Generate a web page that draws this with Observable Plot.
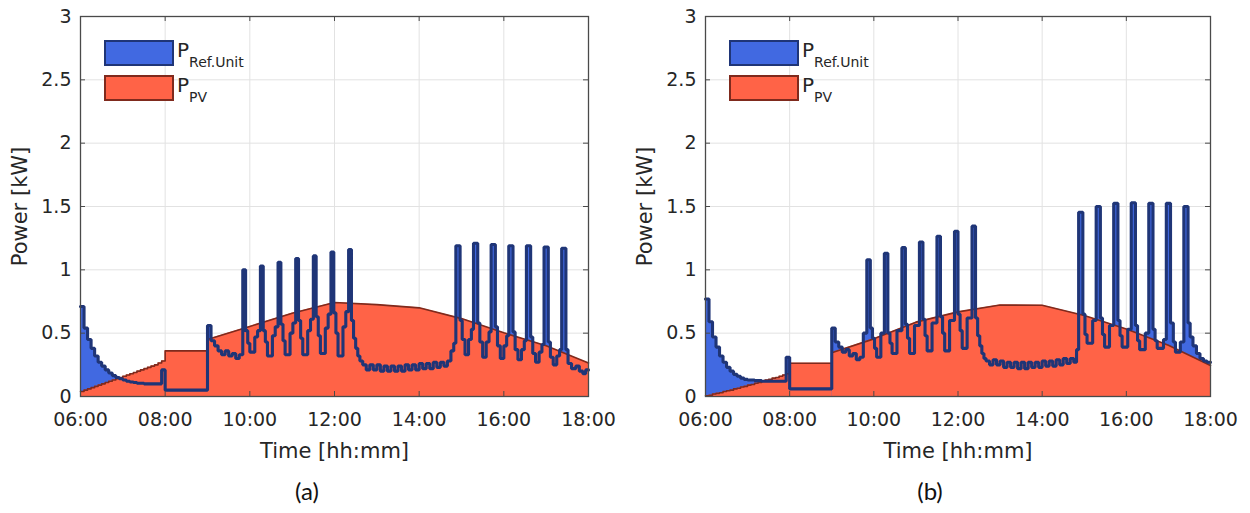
<!DOCTYPE html>
<html>
<head>
<meta charset="utf-8">
<script src="https://cdn.jsdelivr.net/npm/d3@7"></script>
<script src="https://cdn.jsdelivr.net/npm/@observablehq/plot@0.6"></script>
<style>
  body { margin: 0; background: #fff; }
  #fig { position: relative; width: 1250px; height: 513px; background: #fff; overflow: hidden; font-family: "DejaVu Sans", sans-serif; color: #262626; }
  .panel { position: absolute; top: 0; }
  .panel svg g[aria-label="x-axis label"] text, .panel svg g[aria-label="y-axis label"] text { font-size: 21px; }
  .lbox { position: absolute; width: 70px; height: 26px; box-sizing: border-box; border-width: 2.5px; border-style: solid; }
  .ltext { position: absolute; font-size: 20px; line-height: 20px; white-space: nowrap; color: #262626; }
  .ltext sub { font-size: 14px; vertical-align: -10px; line-height: 0; }
  .cap { position: absolute; top: 476px; font-family: Lato, "Open Sans", sans-serif; font-size: 24px; color: #111; transform: translateX(-50%); }
</style>
</head>
<body>
<div id="fig"></div>
<script>
// ---------- data ----------
const xTicks = [6, 8, 10, 12, 14, 16, 18];
const yTicks = [0, 0.5, 1, 1.5, 2, 2.5, 3];
const seriesNames = ["Ref.Unit", "PV"];
const panelLabels = ["(a)", "(b)"];

// Panel (a): reference unit power (step series)
const blueTimeA = ["06:00","06:05","06:10","06:15","06:20","06:25","06:30","06:35","06:40","06:45","06:50","06:55",
  "07:00","07:05","07:10","07:15","07:20","07:30","07:55","08:00","09:00","09:05","09:10","09:15","09:20","09:25",
  "09:30","09:35","09:40","09:45",
  "09:50","09:54","09:57","10:00","10:07","10:11",
  "10:15","10:19","10:22","10:25","10:32","10:36",
  "10:40","10:44","10:47","10:50","10:57","11:01",
  "11:05","11:09","11:12","11:15","11:22","11:26",
  "11:30","11:34","11:37","11:40","11:47","11:51",
  "11:55","11:59","12:02","12:05","12:12","12:16",
  "12:20","12:24","12:27","12:30","12:33","12:36","12:40",
  "12:45","12:50","12:55","13:00","13:05","13:10","13:15","13:20","13:25","13:30","13:35","13:40","13:45","13:50",
  "13:55","14:00","14:05","14:10","14:15","14:20","14:25","14:30","14:35","14:40","14:45","14:49",
  "14:52","14:58","15:01","15:05","15:10","15:14",
  "15:17","15:23","15:26","15:30","15:35","15:39",
  "15:42","15:48","15:51","15:55","16:00","16:04",
  "16:07","16:13","16:16","16:20","16:25","16:29",
  "16:32","16:38","16:41","16:45","16:50","16:54",
  "16:57","17:03","17:06","17:10","17:15","17:19",
  "17:22","17:28","17:31","17:36","17:42","17:47","17:52","17:56","18:00"];
const blueValA = [0.71,0.54,0.45,0.38,0.32,0.27,0.24,0.21,0.185,0.165,0.15,0.14,
  0.13,0.12,0.115,0.11,0.105,0.10,0.21,0.05,0.56,0.44,0.40,0.36,0.33,0.36,
  0.32,0.34,0.30,0.33,
  1.00,0.52,0.42,0.35,0.47,0.52,
  1.03,0.52,0.43,0.32,0.48,0.55,
  1.06,0.57,0.44,0.33,0.50,0.58,
  1.09,0.60,0.46,0.33,0.52,0.61,
  1.11,0.63,0.48,0.34,0.54,0.65,
  1.14,0.66,0.50,0.32,0.55,0.67,
  1.16,0.60,0.46,0.38,0.32,0.28,0.25,
  0.21,0.25,0.21,0.25,0.20,0.24,0.20,0.24,0.20,0.24,0.20,0.25,0.21,0.25,
  0.21,0.26,0.22,0.26,0.22,0.27,0.23,0.27,0.24,0.28,0.36,0.42,
  1.19,0.60,0.45,0.33,0.45,0.53,
  1.21,0.58,0.43,0.31,0.43,0.51,
  1.20,0.55,0.40,0.30,0.40,0.48,
  1.19,0.51,0.37,0.29,0.37,0.44,
  1.19,0.47,0.34,0.27,0.35,0.41,
  1.18,0.43,0.31,0.25,0.32,0.37,
  1.17,0.37,0.26,0.22,0.24,0.20,0.18,0.21,0.21];

// Panel (a): PV power, stepped part (06:00-09:00) and smooth part (09:00-18:00)
const pvStepTimeA = ["06:00","06:05","06:10","06:15","06:20","06:25","06:30","06:35","06:40","06:45","06:50","06:55",
  "07:00","07:05","07:10","07:15","07:20","07:25","07:30","07:35","07:40","07:45","07:50","07:55","08:00","09:00"];
const pvStepValA = [0.04,0.05,0.06,0.07,0.08,0.09,0.10,0.11,0.12,0.13,0.14,0.15,
  0.16,0.17,0.18,0.19,0.20,0.21,0.22,0.23,0.24,0.25,0.265,0.28,0.36,0.45];
const pvTimeA = ["09:00","10:00","11:00","12:00","13:00","14:00","15:00","16:00","17:00","18:00"];
const pvValA = [0.45,0.553,0.658,0.742,0.725,0.70,0.615,0.503,0.40,0.265];

// Panel (b): reference unit power (step series)
const blueTimeB = ["06:00","06:05","06:10","06:15","06:20","06:25","06:30","06:35","06:40","06:45","06:50","06:55",
  "07:00","07:10","07:20","07:55","08:00","09:00","09:05","09:10","09:15","09:20","09:25","09:30","09:35","09:40","09:45",
  "09:50","09:55","09:58","10:01","10:04","10:10",
  "10:15","10:20","10:23","10:26","10:33",
  "10:40","10:45","10:48","10:51","10:58",
  "11:05","11:10","11:13","11:16","11:23",
  "11:30","11:35","11:38","11:41","11:48",
  "11:55","12:00","12:03","12:06","12:13",
  "12:20","12:25","12:28","12:31","12:34","12:37","12:40",
  "12:45","12:50","12:55","13:00","13:05","13:10","13:15","13:20","13:25","13:30","13:35","13:40","13:45","13:50",
  "13:55","14:00","14:05","14:10","14:15","14:20","14:25","14:30","14:35","14:40","14:45","14:49",
  "14:52","14:58","15:01","15:04","15:12",
  "15:17","15:23","15:26","15:29","15:36",
  "15:42","15:48","15:51","15:54","16:02",
  "16:07","16:13","16:16","16:19","16:27",
  "16:32","16:38","16:41","16:44","16:53",
  "16:57","17:03","17:07","17:10","17:17",
  "17:22","17:28","17:31","17:35","17:40","17:45","17:50","17:55","18:00"];
const blueValB = [0.77,0.59,0.47,0.39,0.32,0.27,0.23,0.20,0.175,0.16,0.145,0.135,
  0.13,0.125,0.12,0.31,0.06,0.54,0.43,0.39,0.35,0.37,0.32,0.34,0.29,0.31,0.50,
  1.08,0.54,0.46,0.38,0.31,0.50,
  1.13,0.50,0.42,0.34,0.52,
  1.175,0.57,0.46,0.34,0.56,
  1.22,0.61,0.48,0.36,0.58,
  1.265,0.63,0.50,0.36,0.60,
  1.305,0.65,0.52,0.38,0.62,
  1.345,0.62,0.48,0.40,0.34,0.30,0.28,
  0.25,0.29,0.25,0.28,0.23,0.27,0.23,0.27,0.22,0.27,0.22,0.27,0.23,0.27,
  0.23,0.28,0.24,0.28,0.24,0.29,0.25,0.30,0.26,0.30,0.27,0.37,
  1.455,0.65,0.49,0.42,0.60,
  1.50,0.62,0.49,0.39,0.56,
  1.525,0.60,0.48,0.39,0.53,
  1.53,0.56,0.44,0.37,0.50,
  1.525,0.53,0.44,0.38,0.45,
  1.525,0.58,0.43,0.35,0.43,
  1.50,0.58,0.47,0.40,0.34,0.30,0.28,0.27,0.27];

// Panel (b): PV power
const pvStepTimeB = ["06:00","06:05","06:10","06:15","06:20","06:25","06:30","06:35","06:40","06:45","06:50","06:55",
  "07:00","07:05","07:10","07:15","07:20","07:25","07:30","07:35","07:40","07:45","07:50","07:55","08:00","09:00"];
const pvStepValB = [0.005,0.01,0.02,0.025,0.03,0.04,0.045,0.05,0.06,0.065,0.075,0.08,
  0.09,0.095,0.105,0.11,0.12,0.13,0.135,0.145,0.15,0.16,0.17,0.18,0.263,0.345];
const pvTimeB = ["09:00","10:00","11:00","12:00","13:00","14:00","15:00","16:00","17:00","18:00"];
const pvValB = [0.345,0.455,0.587,0.668,0.722,0.72,0.64,0.532,0.405,0.245];

// ---------- drawing ----------
const BLUE = "#4169e1", NAVY = "#1f3577", RED = "#ff6347", RED_DARK = "#7f2a1d";
const hours = s => { const [h, m] = s.split(":").map(Number); return h + m / 60; };
const rows = (T, V) => T.map((t, i) => ({t: hours(t), v: V[i]}));

const W = 625, H = 470, ML = 80, MT = 16, MB = 74;
function panel(mr, bT, bV, sT, sV, pT, pV) {
  const blue = rows(bT, bV), pvS = rows(sT, sV), pvL = rows(pT, pV);
  const innerH = H - MT - MB, innerW = W - ML - mr;
  return Plot.plot({
    width: W, height: H, marginLeft: ML, marginRight: mr, marginTop: MT, marginBottom: MB,
    x: {domain: [6, 18]},
    y: {domain: [0, 3]},
    style: {fontFamily: "DejaVu Sans, sans-serif", fontSize: "19px", color: "#262626", background: "white", overflow: "visible"},
    marks: [
      Plot.gridX(xTicks, {stroke: "#e2e2e2", strokeOpacity: 1}),
      Plot.gridY(yTicks, {stroke: "#e2e2e2", strokeOpacity: 1}),
      Plot.areaY(blue, {x: "t", y: "v", curve: "step-after", fill: BLUE}),
      Plot.areaY(pvS, {x: "t", y: "v", curve: "step-after", fill: RED}),
      Plot.areaY(pvL, {x: "t", y: "v", fill: RED}),
      Plot.lineY(pvS, {x: "t", y: "v", curve: "step-after", stroke: RED_DARK, strokeWidth: 1.6}),
      Plot.lineY(pvL, {x: "t", y: "v", stroke: RED_DARK, strokeWidth: 1.6}),
      Plot.lineY(blue, {x: "t", y: "v", curve: "step-after", stroke: NAVY, strokeWidth: 3.1, strokeLinejoin: "miter"}),
      Plot.frame({stroke: "#4a4a4a", strokeWidth: 1.3}),
      Plot.ruleX(xTicks, {stroke: "#4a4a4a", insetTop: innerH - 5}),
      Plot.ruleX(xTicks, {stroke: "#4a4a4a", insetBottom: innerH - 5}),
      Plot.ruleY(yTicks, {stroke: "#4a4a4a", insetRight: innerW - 5}),
      Plot.ruleY(yTicks, {stroke: "#4a4a4a", insetLeft: innerW - 5}),
      Plot.axisX({ticks: xTicks, tickSize: 0, tickPadding: 16, tickFormat: h => String(h).padStart(2, "0") + ":00",
        label: "Time [hh:mm]", labelAnchor: "center", labelArrow: "none", labelOffset: 61}),
      Plot.axisY({ticks: yTicks, tickSize: 0, tickPadding: 9, tickFormat: d => String(d),
        label: "Power [kW]", labelAnchor: "center", labelArrow: "none", labelOffset: 68})
    ]
  });
}

const fig = document.getElementById("fig");
const panels = [
  {left: 0, mr: 37, data: [blueTimeA, blueValA, pvStepTimeA, pvStepValA, pvTimeA, pvValA], cap: 307},
  {left: 625, mr: 40, data: [blueTimeB, blueValB, pvStepTimeB, pvStepValB, pvTimeB, pvValB], cap: 930}
];
panels.forEach((p, k) => {
  const div = document.createElement("div");
  div.className = "panel";
  div.style.left = p.left + "px";
  div.appendChild(panel(p.mr, ...p.data));
  fig.appendChild(div);
  // legend
  const lx = p.left + ML + 24;
  [[BLUE, NAVY, 40], [RED, RED_DARK, 75]].forEach(([f, s, top], i) => {
    const b = document.createElement("div");
    b.className = "lbox";
    b.style.left = lx + "px"; b.style.top = top + "px";
    b.style.background = f; b.style.borderColor = s;
    fig.appendChild(b);
    const t = document.createElement("div");
    t.className = "ltext";
    t.style.left = (lx + 73) + "px"; t.style.top = (top) + "px";
    t.innerHTML = "P<sub>" + seriesNames[i] + "</sub>";
    fig.appendChild(t);
  });
  const c = document.createElement("div");
  c.className = "cap";
  c.style.left = p.cap + "px";
  c.textContent = panelLabels[k];
  fig.appendChild(c);
});
</script>
</body>
</html>
